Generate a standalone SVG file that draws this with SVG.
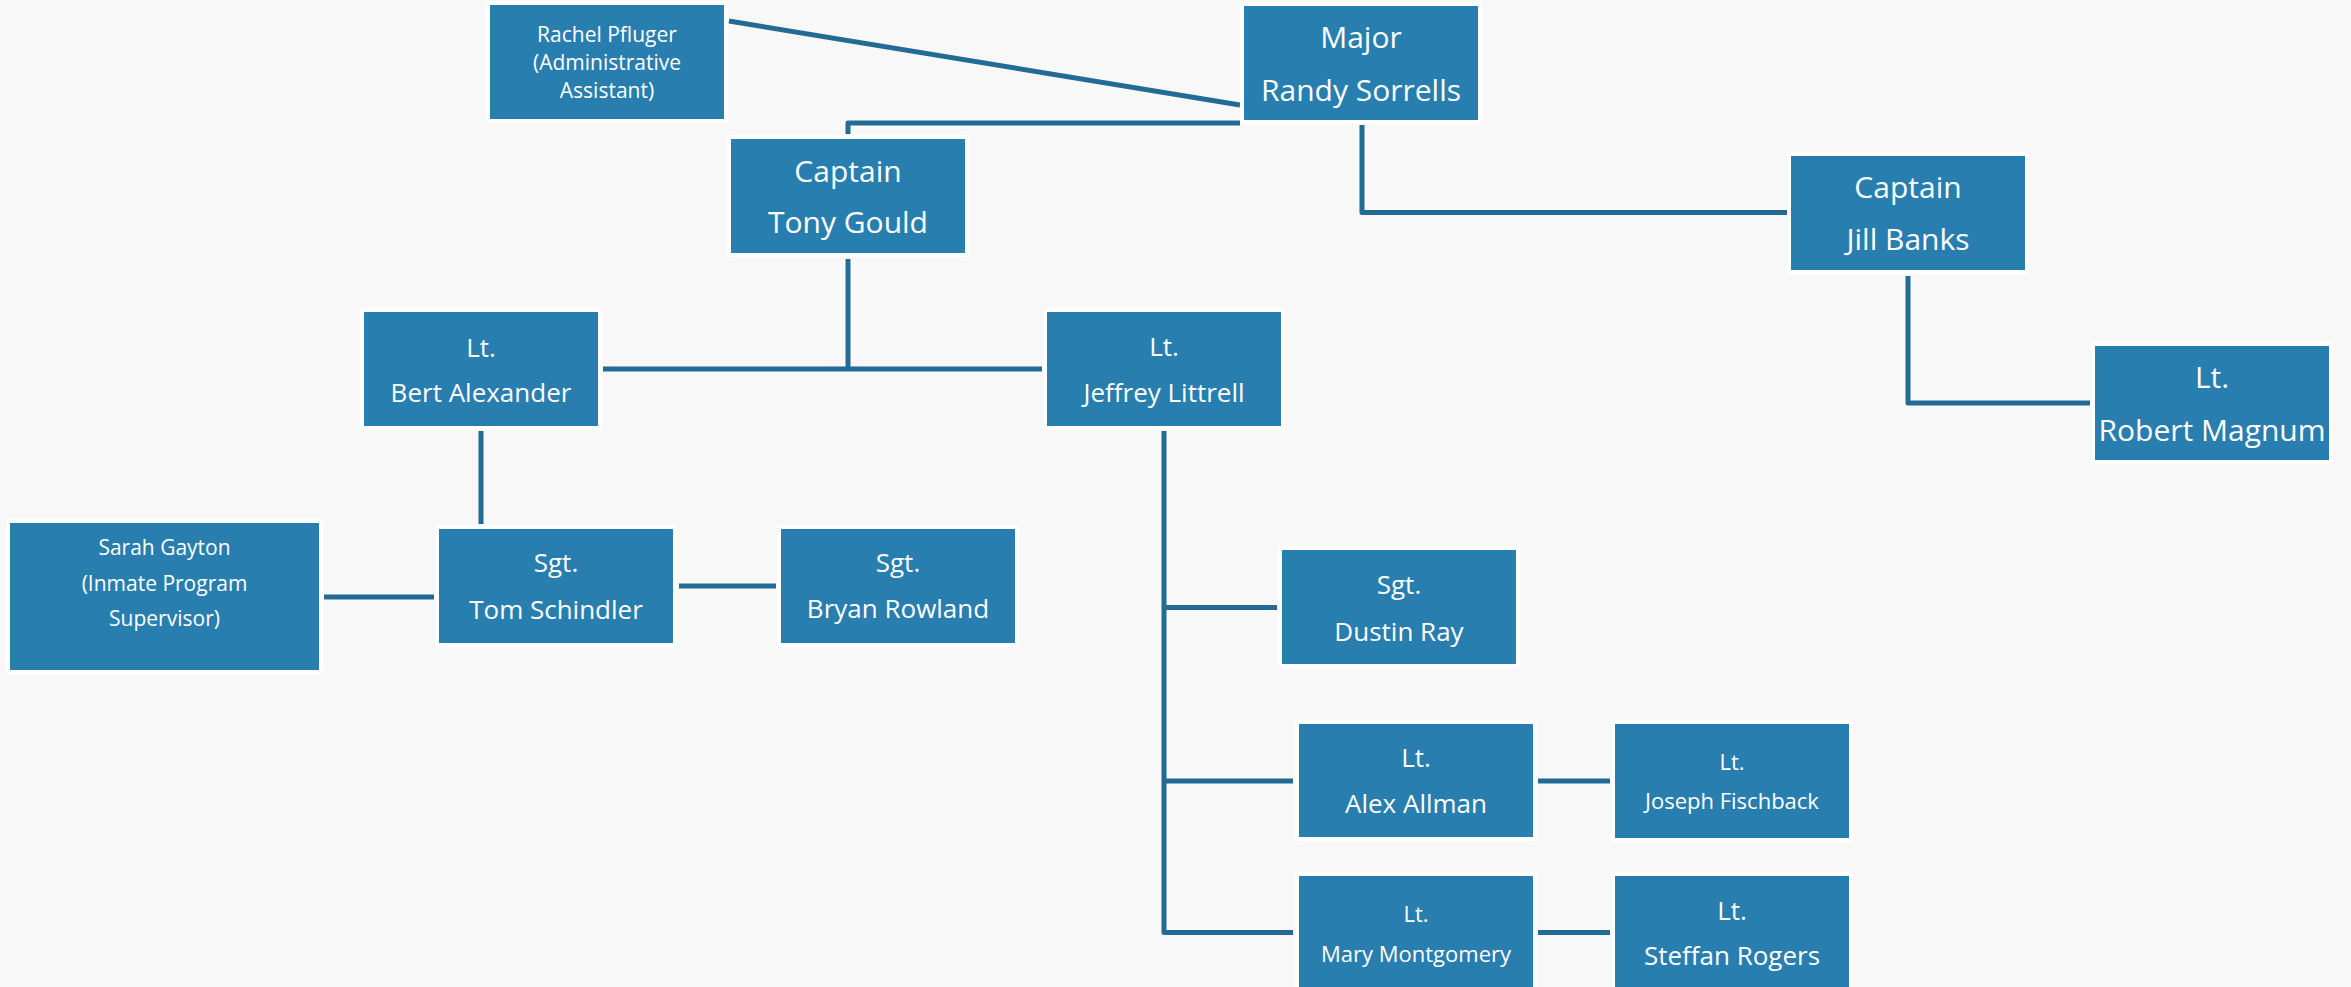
<svg xmlns="http://www.w3.org/2000/svg" width="2351" height="987" viewBox="0 0 2351 987">
<style>
.bg{fill:#f8f8f8}
.box{fill:#287eae;stroke:#ffffff;stroke-width:8;stroke-linejoin:round;paint-order:stroke}
.con{fill:none;stroke:#236a94;stroke-width:5;stroke-linejoin:round}
text{fill:#ffffff;font-family:"Open Sans","Noto Sans","Liberation Sans",sans-serif;text-anchor:middle}
.l{font-size:30px}
.m{font-size:26px}
.s{font-size:22px}
.x{font-size:21px}
</style>
<rect class="bg" x="0" y="0" width="2351" height="987"/>
<g id="connectors">
<path class="con" d="M729,21 L1240,105"/>
<path class="con" d="M1240,123 H848 V134"/>
<path class="con" d="M1362,125 V212.5 H1787"/>
<path class="con" d="M848,259 V369"/>
<path class="con" d="M603,369 H1042"/>
<path class="con" d="M481,431 V524"/>
<path class="con" d="M324,597 H434"/>
<path class="con" d="M679,586 H776"/>
<path class="con" d="M1164,431 V932.5 H1293"/>
<path class="con" d="M1164,607.5 H1277"/>
<path class="con" d="M1164,781 H1293"/>
<path class="con" d="M1538,781 H1610"/>
<path class="con" d="M1538,932.5 H1610"/>
<path class="con" d="M1908,276 V403 H2090"/>
</g>
<g id="rachel"><rect class="box" x="490" y="5" width="234" height="114"/>
<text class="x" x="607" y="42">Rachel Pfluger</text><text class="x" x="607" y="70">(Administrative</text><text class="x" x="607" y="98">Assistant)</text></g>
<g id="major"><rect class="box" x="1244" y="6" width="234" height="114"/>
<text class="l" x="1361" y="48">Major</text><text class="l" x="1361" y="101">Randy Sorrells</text></g>
<g id="tony"><rect class="box" x="731" y="139" width="234" height="114"/>
<text class="l" x="848" y="182">Captain</text><text class="l" x="848" y="233">Tony Gould</text></g>
<g id="jill"><rect class="box" x="1791" y="156" width="234" height="114"/>
<text class="l" x="1908" y="198">Captain</text><text class="l" x="1908" y="250">Jill Banks</text></g>
<g id="robert"><rect class="box" x="2095" y="346" width="234" height="114"/>
<text class="l" x="2212" y="388">Lt.</text><text class="l" x="2212" y="441">Robert Magnum</text></g>
<g id="bert"><rect class="box" x="364" y="312" width="234" height="114"/>
<text class="m" x="481" y="357">Lt.</text><text class="m" x="481" y="402">Bert Alexander</text></g>
<g id="jeffrey"><rect class="box" x="1047" y="312" width="234" height="114"/>
<text class="m" x="1164" y="356">Lt.</text><text class="m" x="1164" y="402">Jeffrey Littrell</text></g>
<g id="sarah"><rect class="box" x="10" y="523" width="309" height="147"/>
<text class="x" x="164.5" y="555">Sarah Gayton</text><text class="x" x="164.5" y="591">(Inmate Program</text><text class="x" x="164.5" y="626">Supervisor)</text></g>
<g id="tom"><rect class="box" x="439" y="529" width="234" height="114"/>
<text class="m" x="556" y="572">Sgt.</text><text class="m" x="556" y="619">Tom Schindler</text></g>
<g id="bryan"><rect class="box" x="781" y="529" width="234" height="114"/>
<text class="m" x="898" y="572">Sgt.</text><text class="m" x="898" y="618">Bryan Rowland</text></g>
<g id="dustin"><rect class="box" x="1282" y="550" width="234" height="114"/>
<text class="m" x="1399" y="594">Sgt.</text><text class="m" x="1399" y="641">Dustin Ray</text></g>
<g id="alex"><rect class="box" x="1299" y="724" width="234" height="113"/>
<text class="m" x="1416" y="767">Lt.</text><text class="m" x="1416" y="813">Alex Allman</text></g>
<g id="joseph"><rect class="box" x="1615" y="724" width="234" height="114"/>
<text class="s" x="1732" y="770">Lt.</text><text class="s" x="1732" y="809">Joseph Fischback</text></g>
<g id="mary"><rect class="box" x="1299" y="876" width="234" height="114"/>
<text class="s" x="1416" y="922">Lt.</text><text class="s" x="1416" y="962">Mary Montgomery</text></g>
<g id="steffan"><rect class="box" x="1615" y="876" width="234" height="114"/>
<text class="m" x="1732" y="920">Lt.</text><text class="m" x="1732" y="965">Steffan Rogers</text></g>
</svg>
